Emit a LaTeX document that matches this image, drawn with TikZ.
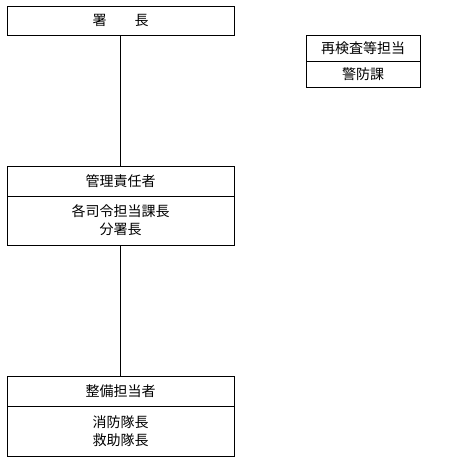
\documentclass[tikz,border=0pt]{standalone}
\usepackage{fontspec}
\newfontfamily\cjk{Noto Sans CJK JP}
\usetikzlibrary{positioning}
\begin{document}
\begin{tikzpicture}
[x=1pt,y=-1pt,%
  boxTitle/.style={draw,line width=0.8pt,inner sep=0pt,outer sep=0pt,minimum width=227pt,minimum height=30pt,font=\cjk\fontsize{14}{18}\selectfont},%
  boxBody/.style={boxTitle,minimum height=50pt,align=center},%
  boxSide/.style={boxTitle,minimum width=114pt,minimum height=26pt},%
  lineLink/.style={-,line width=0.8pt}]
\useasboundingbox (0,0) rectangle (453,463);
%% the chief at the top
\node (chief) at (120.5,20.5) [boxTitle,minimum height=29pt] {署　　長};
%% the box on the right
\node (recheck) at (363,48) [boxSide] {再検査等担当};
\node (recheckBody) [boxSide,below=0pt of recheck] {警防課};
%% the manager
\node (manager) at (120.5,181) [boxTitle] {管理責任者};
\node (managerBody) [boxBody,minimum height=49pt,below=0pt of manager] {各司令担当課長\\分署長};
%% the maintenance staff
\node (staff) at (120.5,391) [boxTitle] {整備担当者};
\node (staffBody) [boxBody,below=0pt of staff] {消防隊長\\救助隊長};
%% links
\draw[lineLink] (chief) -- (manager);
\draw[lineLink] (managerBody) -- (staff);
\end{tikzpicture}
\end{document}
